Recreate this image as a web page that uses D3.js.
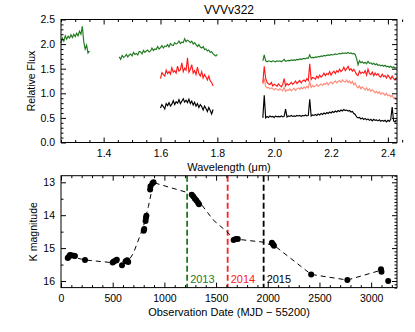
<!DOCTYPE html>
<html><head><meta charset="utf-8">
<script src="https://cdn.jsdelivr.net/npm/d3@7/dist/d3.min.js"></script>
<style>body{margin:0;background:#fff} svg{display:block;font-family:"Liberation Sans",Arial,sans-serif}</style>
</head><body><svg id="c" width="415" height="332"></svg>
<script>
// ---------------- DATA ----------------
const title = "VVVv322";
const specStep = 0.005; // wavelength sampling (micron)

// green (2013) spectrum segments
const greenJStart = 1.250;
const greenJ = [2.02,2.12,2.06,2.17,2.10,2.16,2.12,2.19,2.13,2.20,2.15,2.22,2.17,2.26,2.20,2.36,2.05,1.90,1.98,1.82,1.86];
const greenHStart = 1.455;
const greenH = [1.74,1.69,1.77,1.73,1.75,1.79,1.74,1.78,1.80,1.76,1.83,1.79,1.81,1.78,1.85,1.84,1.80,1.87,1.83,1.86,
  1.88,1.84,1.86,1.92,1.87,1.90,1.89,1.95,1.90,1.93,1.97,1.92,1.96,1.95,1.99,1.94,2.01,1.98,1.97,2.03,
  2.00,2.02,2.06,2.01,2.04,2.03,2.11,2.05,2.08,2.06,2.03,2.06,2.00,2.03,1.99,1.95,1.99,1.94,1.92,1.95,
  1.89,1.90,1.86,1.88,1.83,1.85,1.80,1.78,1.76,1.79];
const greenKStart = 1.960;
const greenK = [1.66,1.78,1.66,1.64,1.66,1.65,1.64,1.66,1.65,1.64,1.66,1.65,1.66,1.64,1.66,1.69,1.65,1.66,1.67,1.66,
  1.68,1.67,1.68,1.67,1.69,1.68,1.70,1.69,1.70,1.71,1.70,1.72,1.71,1.78,1.72,1.73,1.72,1.74,1.73,1.75,
  1.74,1.76,1.75,1.77,1.76,1.77,1.78,1.77,1.79,1.78,1.79,1.80,1.79,1.80,1.81,1.80,1.82,1.81,1.82,1.81,
  1.83,1.81,1.82,1.80,1.81,1.79,1.70,1.58,1.66,1.62,1.64,1.61,1.63,1.60,1.65,1.61,1.62,1.59,1.61,1.58,
  1.60,1.57,1.58,1.56,1.57,1.55,1.57,1.54,1.55,1.53,1.55,1.52,1.54,1.51,1.53];

// red (2014) spectrum segments
const redHStart = 1.600;
const redH = [1.30,1.42,1.38,1.35,1.47,1.40,1.44,1.39,1.52,1.43,1.46,1.41,1.55,1.45,1.48,1.62,1.44,1.51,1.47,1.72,
  1.43,1.49,1.58,1.41,1.46,1.38,1.53,1.40,1.35,1.44,1.31,1.38,1.33,1.27,1.35,1.25,1.22,1.15];
const redKStart = 1.960;
const redK = [1.22,1.55,1.30,1.22,1.19,1.18,1.22,1.15,1.18,1.17,1.14,1.19,1.16,1.13,1.18,1.30,1.15,1.20,1.17,1.19,
  1.22,1.18,1.21,1.25,1.20,1.23,1.26,1.21,1.25,1.27,1.24,1.30,1.26,1.60,1.28,1.32,1.31,1.29,1.35,1.31,
  1.37,1.33,1.36,1.41,1.36,1.40,1.38,1.44,1.37,1.42,1.45,1.40,1.46,1.43,1.49,1.44,1.47,1.53,1.46,1.50,
  1.55,1.47,1.50,1.45,1.49,1.44,1.38,1.36,1.45,1.40,1.43,1.41,1.46,1.37,1.49,1.40,1.38,1.43,1.36,1.41,
  1.37,1.40,1.35,1.33,1.39,1.34,1.36,1.31,1.37,1.33,1.29,1.35,1.30,1.27,1.32];

// light red spectrum (K band)
const salmonKStart = 1.960;
const salmonK = [1.18,1.30,1.14,1.11,1.12,1.09,1.11,1.10,1.07,1.10,1.08,1.06,1.09,1.07,1.05,1.12,1.04,1.07,1.06,1.09,
  1.05,1.08,1.10,1.06,1.09,1.11,1.08,1.12,1.09,1.13,1.10,1.14,1.11,1.24,1.12,1.16,1.13,1.15,1.18,1.14,
  1.17,1.19,1.16,1.20,1.18,1.22,1.17,1.21,1.23,1.19,1.22,1.25,1.21,1.24,1.26,1.22,1.27,1.24,1.23,1.27,
  1.22,1.25,1.20,1.24,1.17,1.21,1.14,1.11,1.15,1.09,1.13,1.10,1.07,1.11,1.06,1.09,1.04,1.07,1.05,1.01,
  1.04,1.00,1.03,0.98,1.01,0.99,0.96,1.00,0.95,0.97,0.93,0.96,0.90,0.92,0.87];

// black (2015) spectrum segments
const blackHStart = 1.600;
const blackH = [0.70,0.77,0.73,0.68,0.79,0.75,0.81,0.74,0.78,0.85,0.77,0.83,0.80,0.87,0.79,0.84,0.89,0.82,0.86,0.81,
  0.88,0.79,0.84,0.76,0.82,0.74,0.79,0.71,0.77,0.73,0.66,0.74,0.69,0.63,0.71,0.65,0.58,0.67];
const blackKStart = 1.960;
const blackK = [0.50,0.96,0.50,0.53,0.51,0.54,0.52,0.53,0.51,0.54,0.52,0.53,0.52,0.54,0.52,0.53,0.68,0.52,0.54,0.53,
  0.55,0.53,0.54,0.53,0.55,0.54,0.55,0.53,0.55,0.54,0.56,0.54,0.55,0.88,0.54,0.56,0.55,0.57,0.55,0.58,
  0.56,0.59,0.57,0.60,0.58,0.61,0.59,0.62,0.60,0.63,0.61,0.64,0.62,0.65,0.63,0.66,0.64,0.67,0.65,0.66,
  0.64,0.65,0.62,0.63,0.59,0.57,0.52,0.50,0.51,0.48,0.50,0.47,0.49,0.46,0.48,0.45,0.47,0.44,0.47,0.45,
  0.46,0.44,0.46,0.43,0.45,0.43,0.45,0.42,0.45,0.43,0.47,0.72,0.44,0.42,0.46];

// light curve (K magnitude vs days since MJD 55200)
const obsDays = [65,75,87,100,126,135,232,500,510,530,540,590,625,640,650,800,805,818,822,826,862,866,885,895,
  1265,1280,1295,1310,1325,1335,1670,1690,1710,2040,2050,2060,2420,2770,3095,3100,3165];
const obsMag  = [15.30,15.26,15.21,15.22,15.23,15.24,15.36,15.44,15.41,15.38,15.35,15.52,15.40,15.37,15.42,14.47,14.42,14.18,14.08,14.02,13.22,13.12,13.03,13.00,
  13.38,13.43,13.50,13.55,13.62,13.67,14.75,14.72,14.72,14.84,14.88,14.93,15.80,15.97,15.64,15.72,16.00];
const trendDays = [80,232,520,650,700,797,845,894,1265,1345,1474,1604,1675,1960,2087,2420,2770,3098];
const trendMag  = [15.25,15.36,15.45,15.40,15.16,14.35,13.74,13.01,13.35,13.62,14.15,14.50,14.72,14.82,14.98,15.80,15.97,15.67];
const epochYears = ["2013","2014","2015"];
const epochDays  = [1220,1612,1960];
const epochColors = ["#1f7a1f","#ff2020","#000000"];

const topXTicks = [1.4,1.6,1.8,2.0,2.2,2.4];
const topYTicks = [0.0,0.5,1.0,1.5,2.0,2.5];
const botXTicks = [0,500,1000,1500,2000,2500,3000];
const botYTicks = [13,14,15,16];

// ---------------- DRAW ----------------
const svg = d3.select("#c");
const L = 61, R = 397;
const xW = d3.scaleLinear().domain([1.25, 2.432]).range([L, R]);
const yF = d3.scaleLinear().domain([0, 2.5]).range([142.5, 19.5]);
const xD = d3.scaleLinear().domain([0, 3250]).range([L, R]);
const yM = d3.scaleLinear().domain([12.8, 16.2]).range([175.7, 287.6]);

function frame(x, y){
  const [x0,x1] = x.range(), [y0,y1] = y.range();
  svg.append("rect").attr("x",x0).attr("y",Math.min(y0,y1)).attr("width",x1-x0).attr("height",Math.abs(y1-y0))
    .attr("fill","none").attr("stroke","#000").attr("stroke-width",1);
}
function axisGroup(axis, tx, ty){
  const g = svg.append("g").attr("transform",`translate(${tx},${ty})`).call(axis);
  g.select(".domain").remove();
  g.selectAll("text").attr("font-size",10.5).attr("fill","#000").attr("font-family","Liberation Sans, Arial, sans-serif");
  g.selectAll("line").attr("stroke","#000");
  return g;
}
function minors(lo, hi, step, majors){
  return d3.range(Math.round(lo/step), Math.round(hi/step)+1).map(i=>+(i*step).toFixed(4))
    .filter(v => !majors.some(m => Math.abs(m-v) < step/10));
}
function panelAxes(x, y, xt, yt, xmin, ymin, ymin2, fmtX, fmtY){
  const yBot = Math.max(...y.range());
  const yTopV = Math.min(...y.range());
  axisGroup(d3.axisBottom(x).tickValues(xt).tickSize(-5).tickPadding(7).tickFormat(fmtX), 0, yBot);
  axisGroup(d3.axisBottom(x).tickValues(xmin).tickSize(-2.5).tickFormat(""), 0, yBot);
  axisGroup(d3.axisTop(x).tickValues(xt).tickSize(-5).tickFormat(""), 0, yTopV);
  axisGroup(d3.axisTop(x).tickValues(xmin).tickSize(-2.5).tickFormat(""), 0, yTopV);
  axisGroup(d3.axisLeft(y).tickValues(yt).tickSize(-5).tickPadding(6).tickFormat(fmtY), L, 0);
  axisGroup(d3.axisLeft(y).tickValues(ymin).tickSize(-2.5).tickFormat(""), L, 0);
  axisGroup(d3.axisRight(y).tickValues(yt).tickSize(-5).tickFormat(""), R, 0);
  axisGroup(d3.axisRight(y).tickValues(ymin2).tickSize(-2.5).tickFormat(""), R, 0);
}

// ---- top panel: spectra ----
const segs = [
  {start:greenJStart, flux:greenJ, color:"#1f7a1f"},
  {start:greenHStart, flux:greenH, color:"#1f7a1f"},
  {start:greenKStart, flux:greenK, color:"#1f7a1f"},
  {start:salmonKStart, flux:salmonK, color:"#ff8a78"},
  {start:redHStart, flux:redH, color:"#ff1a1a"},
  {start:redKStart, flux:redK, color:"#ff1a1a"},
  {start:blackHStart, flux:blackH, color:"#000000"},
  {start:blackKStart, flux:blackK, color:"#000000"}
];
const specLine = d3.line().x(d=>xW(d[0])).y(d=>yF(d[1]));
segs.forEach(s=>{
  const pts = s.flux.map((f,i)=>[s.start + i*specStep, f]);
  svg.append("path").attr("d",specLine(pts)).attr("fill","none").attr("stroke",s.color).attr("stroke-width",1.15);
});
frame(xW, yF);
panelAxes(xW, yF, topXTicks, topYTicks,
  minors(1.25, 2.43, 0.05, topXTicks), minors(0, 2.5, 0.1, topYTicks), minors(0, 2.5, 0.1, topYTicks),
  d3.format(".1f"), d3.format(".1f"));

svg.append("text").attr("x",(L+R)/2).attr("y",14).attr("text-anchor","middle").attr("font-size",12).text(title);
svg.append("text").attr("x",(L+R)/2).attr("y",171).attr("text-anchor","middle").attr("font-size",11).text("Wavelength (μm)");
svg.append("text").attr("transform",`translate(34.5,${(19.5+142.5)/2}) rotate(-90)`).attr("text-anchor","middle").attr("font-size",10.5).text("Relative Flux");

// ---- bottom panel: light curve ----
epochDays.forEach((d,i)=>{
  svg.append("line").attr("x1",xD(d)).attr("x2",xD(d)).attr("y1",yM.range()[0]).attr("y2",yM.range()[1])
    .attr("stroke",epochColors[i]).attr("stroke-width",1.8).attr("stroke-dasharray","6,3");
  svg.append("text").attr("x",xD(d)+3).attr("y",283).attr("font-size",11).attr("fill",epochColors[i]).text(epochYears[i]);
});
const trend = trendDays.map((d,i)=>[d,trendMag[i]]);
svg.append("path").attr("d",d3.line().x(d=>xD(d[0])).y(d=>yM(d[1]))(trend))
  .attr("fill","none").attr("stroke","#000").attr("stroke-width",1).attr("stroke-dasharray","5,4");
svg.append("g").selectAll("circle").data(obsDays.map((d,i)=>[d,obsMag[i]])).join("circle")
  .attr("cx",d=>xD(d[0])).attr("cy",d=>yM(d[1])).attr("r",3).attr("fill","#000");
frame(xD, yM);
panelAxes(xD, yM, botXTicks, botYTicks,
  minors(0, 3200, 100, botXTicks), minors(12.8, 16.2, 0.5, botYTicks), minors(12.8, 16.2, 0.1, botYTicks),
  d3.format("d"), d3.format("d"));
svg.append("text").attr("x",(L+R)/2).attr("y",316).attr("text-anchor","middle").attr("font-size",11).text("Observation Date (MJD − 55200)");
svg.append("text").attr("transform",`translate(36.5,${(175.7+287.6)/2}) rotate(-90)`).attr("text-anchor","middle").attr("font-size",10.5).text("K magnitude");
</script></body></html>
